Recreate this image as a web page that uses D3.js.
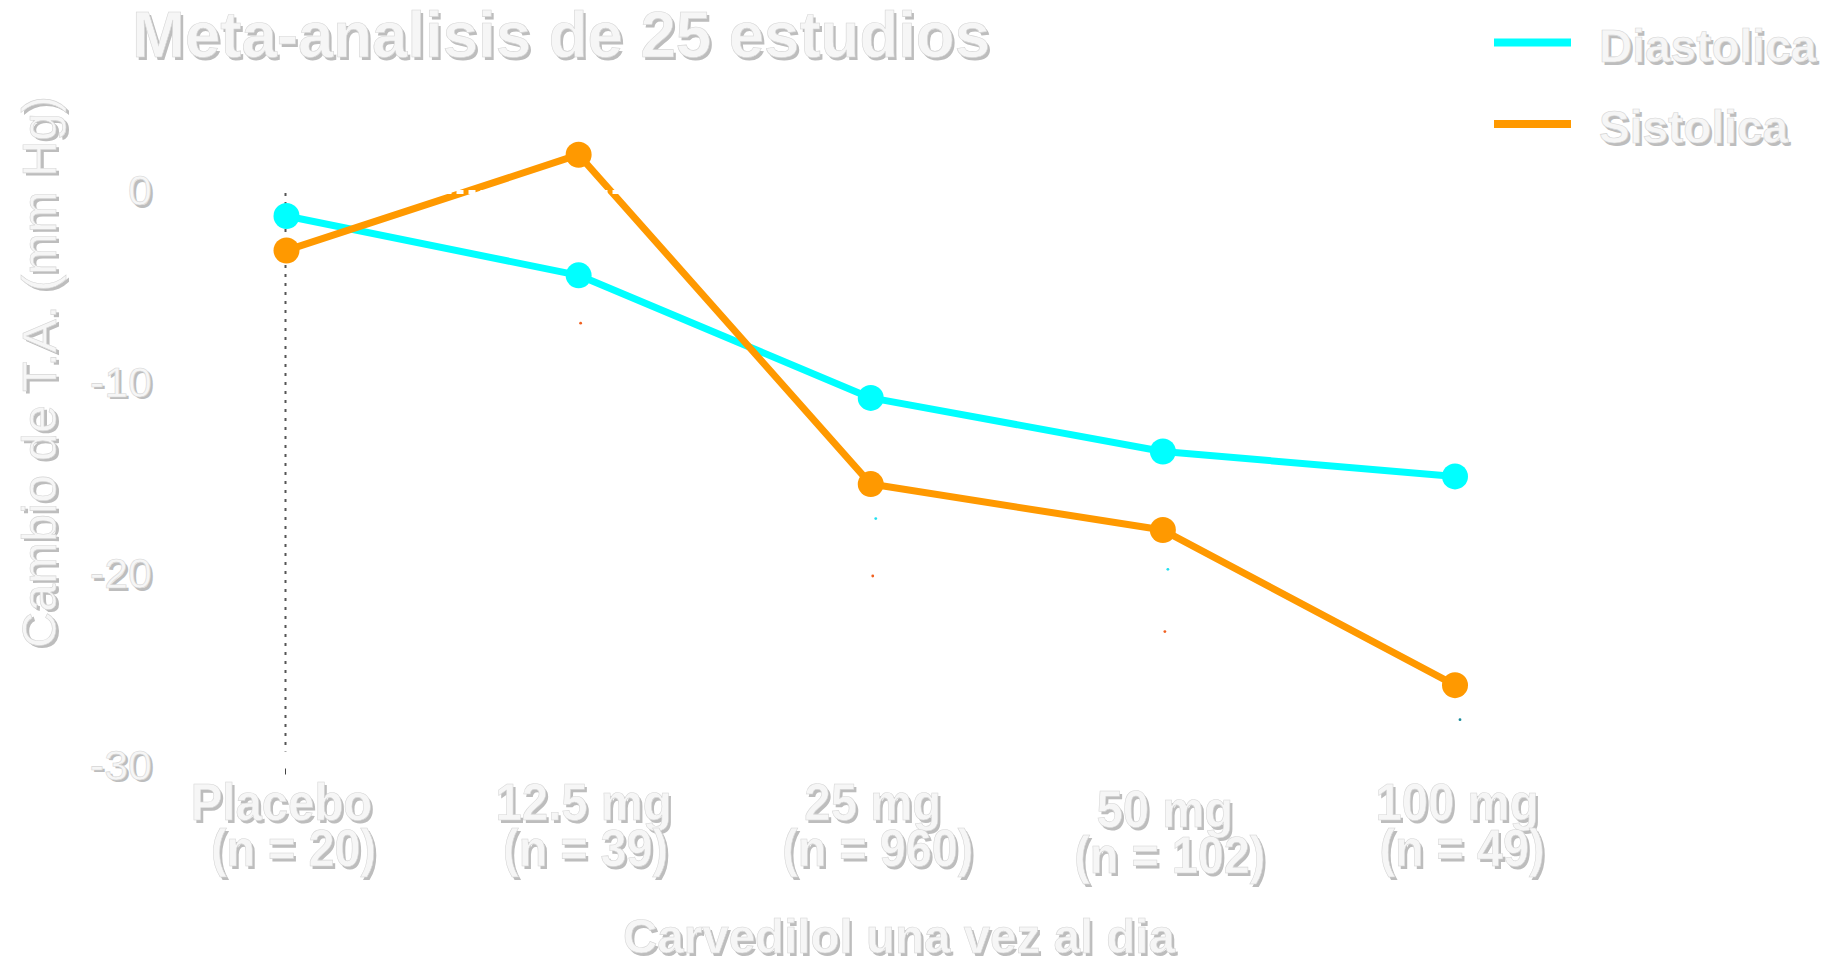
<!DOCTYPE html>
<html>
<head>
<meta charset="utf-8">
<script src="https://cdn.jsdelivr.net/npm/d3@7"></script>
<style>
  html, body { margin: 0; padding: 0; background: #ffffff; }
  svg { display: block; }
</style>
</head>
<body>
<script>
// ---- data ----
const categories = ["Placebo", "12.5 mg", "25 mg", "50 mg", "100 mg"];
const sampleSizes = ["(n = 20)", "(n = 39)", "(n = 960)", "(n = 102)", "(n = 49)"];
const diastolica = [-1.2, -4.3, -10.7, -13.5, -14.8];
const sistolica = [-3.0, 2.0, -15.2, -17.6, -25.7];
const diaMarks = [null, null, -17.0, -19.65, -27.5];
const sysMarks = [null, -6.8, -20.0, -22.9, null];
const yTicks = [0, -10, -20, -30];
const seriesNames = ["Diastolica", "Sistolica"];
const seriesColors = ["#00ffff", "#ff9900"];

const W = 1842, H = 962;
const svg = d3.select("body").append("svg").attr("width", W).attr("height", H);

const x = d3.scalePoint().domain(categories).range([286.5, 1455]);
const y = d3.scaleLinear().domain([0, -30]).range([193, 767.5]);

const TXT = "#f6f6f6", SHD = "#bdbdbd";
function shadowText(g, t, px, py, opts) {
  const o = Object.assign({size: 44, weight: "bold", anchor: "middle", rotate: null, len: null, squeeze: null, base: null}, opts || {});
  [[SHD, 2.5], [TXT, 0]].forEach(([col, off]) => {
    const el = g.append("text")
      .attr("x", px + off).attr("y", py + off)
      .attr("fill", col)
      .attr("font-family", "'Liberation Sans', Arial, sans-serif")
      .attr("font-size", o.size)
      .attr("font-weight", o.weight)
      .attr("text-anchor", o.anchor)
      .text(t);
    if (o.base) el.attr("dominant-baseline", o.base);
    if (o.len) el.attr("textLength", o.len).attr("lengthAdjust", "spacingAndGlyphs");
    else if (o.squeeze) {
      const L = el.node().getComputedTextLength();
      el.attr("textLength", L * o.squeeze).attr("lengthAdjust", "spacingAndGlyphs");
    }
    if (o.rotate !== null) el.attr("transform", `rotate(${o.rotate},${px + off},${py + off})`);
    if (col === TXT) el.attr("stroke", "#d6d6d6").attr("stroke-width", 0.6);
  });
}

// title
shadowText(svg, "Meta-analisis de 25 estudios", 132, 57, {size: 65, anchor: "start", len: 858});

// y axis label
shadowText(svg, "Cambio de T.A. (mm Hg)", 56, 372, {size: 49, weight: "normal", rotate: -90, len: 552});

// y tick labels
yTicks.forEach(v => {
  shadowText(svg, String(v), 152, y(v) + 12, {size: 43, weight: "normal", anchor: "end"});
});

// dotted vertical axis at placebo
svg.append("line")
  .attr("x1", x("Placebo") - 1).attr("x2", x("Placebo") - 1)
  .attr("y1", y(0)).attr("y2", y(-30) - 16)
  .attr("stroke", "#555").attr("stroke-width", 2)
  .attr("stroke-dasharray", "3,6");
// small x tick
svg.append("line")
  .attr("x1", x("Placebo") - 1).attr("x2", x("Placebo") - 1)
  .attr("y1", y(-30) + 1).attr("y2", y(-30) + 7)
  .attr("stroke", "#444").attr("stroke-width", 1);

// category labels
const labelShift = [-5, 5, 2, 2, 2];
categories.forEach((c, i) => {
  const dy = c === "50 mg" ? 7 : 0;
  shadowText(svg, c, x(c) + labelShift[i], 820 + dy, {size: 52, squeeze: 0.91});
  shadowText(svg, sampleSizes[i], x(c) + 7, 866 + dy, {size: 52, squeeze: 0.9});
});

// x axis title
shadowText(svg, "Carvedilol una vez al dia", 899, 953, {size: 49, len: 552});

// lines
const line = d3.line().x((d, i) => x(categories[i])).y(d => y(d));
[diastolica, sistolica].forEach((s, k) => {
  svg.append("path").datum(s)
    .attr("d", line)
    .attr("fill", "none")
    .attr("stroke", seriesColors[k])
    .attr("stroke-width", 7)
    .attr("stroke-linejoin", "round");
  svg.selectAll(null).data(s).enter().append("circle")
    .attr("cx", (d, i) => x(categories[i]))
    .attr("cy", d => y(d))
    .attr("r", 13)
    .attr("fill", seriesColors[k]);
});

// white dashed zero line over the lines
svg.append("line")
  .attr("x1", x("Placebo") + 14).attr("x2", x("100 mg"))
  .attr("y1", y(0) - 1).attr("y2", y(0) - 1)
  .attr("stroke", "#ffffff").attr("stroke-width", 4)
  .attr("stroke-dasharray", "7,5");

// tiny marks
diaMarks.forEach((v, i) => {
  if (v === null) return;
  svg.append("circle").attr("cx", x(categories[i]) + 5).attr("cy", y(v)).attr("r", 1.4)
    .attr("fill", i === 4 ? "#1a8c9c" : "#22e0f0");
});
sysMarks.forEach((v, i) => {
  if (v === null) return;
  svg.append("circle").attr("cx", x(categories[i]) + 2).attr("cy", y(v)).attr("r", 1.4)
    .attr("fill", "#f06020");
});

// legend
const lg = svg.append("g");
seriesNames.forEach((n, k) => {
  const ly = [42.5, 124][k];
  lg.append("line").attr("x1", 1494).attr("x2", 1571).attr("y1", ly).attr("y2", ly)
    .attr("stroke", seriesColors[k]).attr("stroke-width", 8);
  shadowText(lg, n, 1599, [62, 143][k], {size: 46, anchor: "start"});
});
</script>
</body>
</html>
